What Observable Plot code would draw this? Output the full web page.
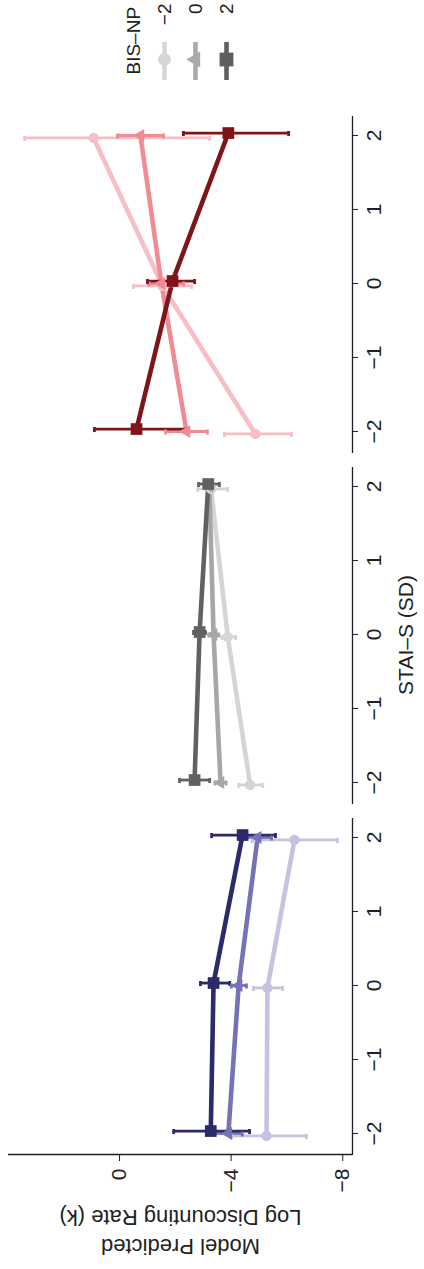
<!DOCTYPE html>
<html><head><meta charset="utf-8">
<script src="https://cdn.jsdelivr.net/npm/d3@7"></script>
<script src="https://cdn.jsdelivr.net/npm/@observablehq/plot@0.6"></script>
<style>
html,body{margin:0;padding:0;background:#fff;overflow:hidden;width:424px;height:1269px;}
#stage{position:absolute;left:0;top:0;width:1269px;height:424px;transform-origin:0 0;transform:translate(0,1269px) rotate(-90deg);}
#main{position:absolute;left:0;top:0;}
#legend{position:absolute;left:1189px;top:0;}
</style></head><body><div id="stage"><div id="main"></div><div id="legend"></div></div>
<script>
// ---- data ----
const panels = ["Panel 1", "Panel 2", "Panel 3"];
const bisLevels = [-2, 0, 2];
const bisLabels = ["\u22122", "0", "2"];
const staiLevels = [-2, 0, 2];
const staiTicks = [-2, -1, 0, 1, 2];
const logkTicks = [0, -4, -8];

// rows: BIS -2, 0, 2 ; columns: STAI -2, 0, 2
const meanP1 = [[-5.27, -5.30, -6.27], [-3.90, -4.27, -4.95], [-3.27, -3.37, -4.41]];
const hiP1   = [[-4.02, -4.80, -4.75], [-3.40, -4.01, -4.45], [-1.94, -2.90, -3.30]];
const loP1   = [[-6.70, -5.84, -7.81], [-4.40, -4.55, -5.45], [-4.66, -3.95, -5.59]];

const meanP2 = [[-4.68, -3.88, -3.28], [-3.62, -3.37, -3.22], [-2.69, -2.87, -3.18]];
const hiP2   = [[-4.27, -3.66, -2.80], [-3.42, -3.20, -3.05], [-2.15, -2.65, -2.83]];
const loP2   = [[-5.13, -4.16, -3.87], [-3.82, -3.55, -3.40], [-3.23, -3.08, -3.58]];

const meanP3 = [[-4.87, -1.54, 0.93], [-2.40, -1.50, -0.75], [-0.61, -1.90, -3.90]];
const hiP3   = [[-3.76, -0.50, 3.40], [-1.65, -1.05, 0.07], [0.90, -1.00, -2.29]];
const loP3   = [[-6.16, -2.58, -3.23], [-3.15, -2.30, -1.58], [-2.44, -2.69, -6.06]];

const colorsP1 = ["#c6c2e0", "#7572b6", "#2b2a6b"];
const colorsP2 = ["#d5d5d5", "#a8a7a7", "#616161"];
const colorsP3 = ["#f7bfc5", "#ee8b93", "#7f1518"];
const legendColors = ["#d6d6d6", "#aba9a9", "#5f5f5f"];
const symbols = ["circle", "triangle", "square"];
const symbolR = {circle: 5.2, triangle: 4.8, square: 6.6};
const dodge = [-0.033, 0, 0.033];

const xDomain = [-2.284, 2.27];
const yDomain = [-8.35, 3.98];

// ---- build table ----
const means = [meanP1, meanP2, meanP3], his = [hiP1, hiP2, hiP3], los = [loP1, loP2, loP3];
const colors = [colorsP1, colorsP2, colorsP3];
const rows = [];
panels.forEach((p, pi) => bisLevels.forEach((b, bi) => staiLevels.forEach((s, si) => rows.push({
  panel: p, bis: b, stai: s, xd: s + dodge[bi],
  mean: means[pi][bi][si], hi: his[pi][bi][si], lo: los[pi][bi][si],
  color: colors[pi][bi], symbol: symbols[bi], key: p + "|" + b
}))));

const fmt = d => d < 0 ? "\u2212" + Math.abs(d) : String(d);
const ink = "#231f20";
const capW = 0.034;

const marks = [
  Plot.ruleY(panels.map(p => ({panel: p, y: yDomain[0]})), {fx: "panel", y: "y", stroke: ink, strokeWidth: 1.3}),
  Plot.ruleX([{panel: panels[0], x: xDomain[0]}], {fx: "panel", x: "x", y1: yDomain[0], y2: yDomain[1], stroke: ink, strokeWidth: 1.3}),
  Plot.axisX({ticks: staiTicks, tickSize: 6, tickPadding: 8, fontSize: 21, label: null, tickFormat: fmt, stroke: ink, fill: ink}),
  Plot.axisY({ticks: logkTicks, tickSize: 6, tickPadding: 8, fontSize: 21, label: null, tickFormat: fmt, stroke: ink, fill: ink}),
  Plot.line(rows, {fx: "panel", x: "xd", y: "mean", z: "key", stroke: "color", strokeWidth: 4.6}),
  Plot.ruleX(rows, {fx: "panel", x: "xd", y1: "lo", y2: "hi", stroke: "color", strokeWidth: 2.8}),
  Plot.ruleY(rows, {fx: "panel", y: "lo", x1: d => d.xd - capW, x2: d => d.xd + capW, stroke: "color", strokeWidth: 2.8}),
  Plot.ruleY(rows, {fx: "panel", y: "hi", x1: d => d.xd - capW, x2: d => d.xd + capW, stroke: "color", strokeWidth: 2.8}),
  ...symbols.map(sym => Plot.dot(rows.filter(d => d.symbol === sym), {fx: "panel", x: "xd", y: "mean", symbol: sym, r: symbolR[sym], fill: "color"})),
  Plot.text(["STAI\u2013S (SD)"], {fx: () => panels[1], frameAnchor: "bottom", textAnchor: "middle", lineAnchor: "top", dy: 46, fontSize: 21, fill: ink}),
  Plot.text(["Model Predicted\nLog Discounting Rate (k)"], {fx: () => panels[0], frameAnchor: "left", textAnchor: "middle", dx: -105, rotate: -90, lineAnchor: "top", fontSize: 22, lineHeight: 1.32, fill: ink})
];

const chart = Plot.plot({
  width: 1269, height: 424,
  marginLeft: 114, marginRight: 116, marginTop: 8, marginBottom: 72,
  style: {fontFamily: "Liberation Sans", background: "white", color: ink, overflow: "visible"},
  fx: {domain: panels, paddingInner: 0.04, paddingOuter: 0, axis: null, label: null},
  x: {domain: xDomain, label: null},
  y: {domain: yDomain, label: null},
  color: {type: "identity"},
  marks
});
document.getElementById("main").appendChild(chart);

// ---- legend ----
const legendRows = bisLevels.map((b, i) => ({level: bisLabels[i], color: legendColors[i], symbol: symbols[i]}));
const legend = Plot.plot({
  width: 80, height: 250, margin: 0,
  style: {fontFamily: "Liberation Sans", background: "transparent", color: ink, overflow: "visible"},
  x: {domain: [0, 80], axis: null},
  y: {type: "point", domain: ["title", ...bisLabels], range: [132, 227], padding: 0, axis: null},
  color: {type: "identity"},
  marks: [
    Plot.text(["BIS\u2013NP"], {x: 5, y: () => "title", textAnchor: "start", fontSize: 19, fill: ink}),
    Plot.ruleY(legendRows, {y: "level", x1: 0, x2: 38, stroke: "color", strokeWidth: 4.6}),
    ...symbols.map(sym => Plot.dot(legendRows.filter(d => d.symbol === sym), {x: 20, y: "level", symbol: sym, r: symbolR[sym] + 1.2, fill: "color"})),
    Plot.text(legendRows, {x: 76, y: "level", text: "level", textAnchor: "end", fontSize: 19, fill: ink})
  ]
});
document.getElementById("legend").appendChild(legend);
</script></body></html>
